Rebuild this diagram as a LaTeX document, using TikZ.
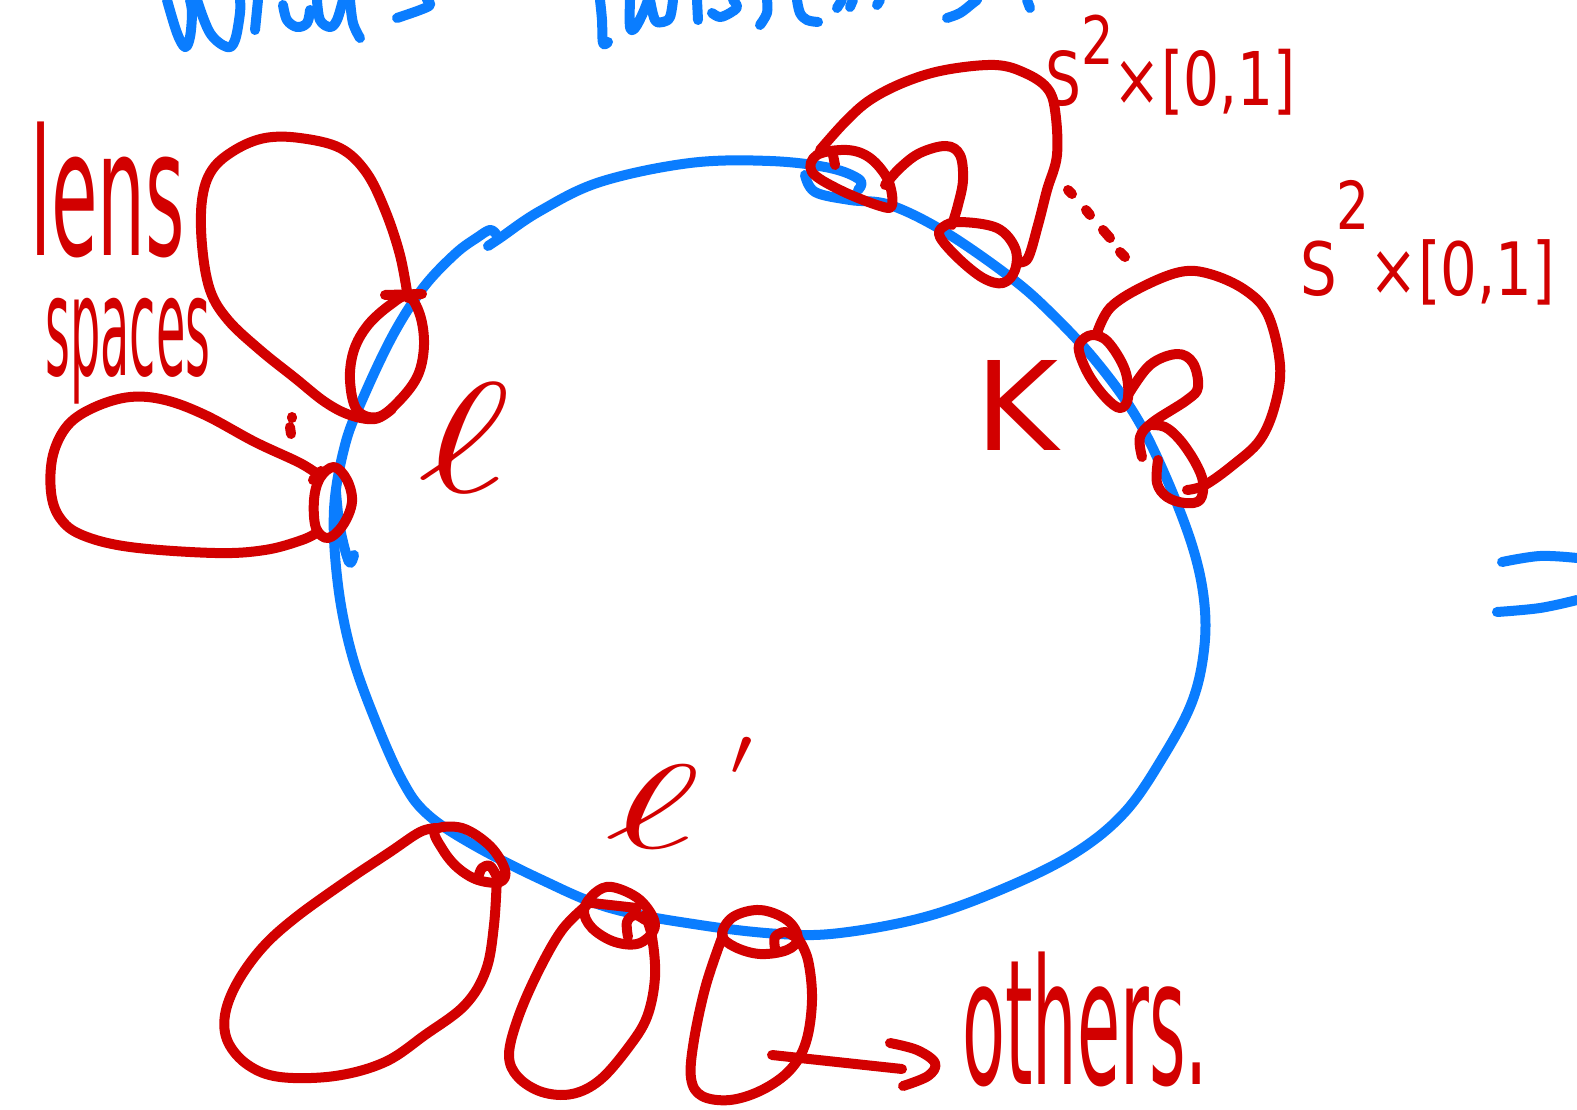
\documentclass[tikz,border=0pt]{standalone}
\usepackage{fontspec}
\setmainfont{DejaVu Sans}
\definecolor{myblue}{RGB}{10,125,255}
\definecolor{myred}{RGB}{210,0,0}
\tikzset{
  bl/.style={draw=myblue, line width=10pt, line cap=round, line join=round},
  rd/.style={draw=myred, line width=10pt, line cap=round, line join=round},
  lbl/.style={inner sep=0pt, anchor=north west, text=myred},
  sm/.style={smooth, tension=0.6},
}
\begin{document}
\begin{tikzpicture}[x=1pt,y=-1pt]
\useasboundingbox (0,0) rectangle (1577,1110);
\fill[white] (0,0) rectangle (1577,1110);

% ---------- blue handwriting fragments at top ----------
\draw[bl] plot[sm] coordinates {(167,0) (177,33) (185,47) (190,37) (192,13) (190,0)};
\draw[bl] plot[sm] coordinates {(197,0) (210,33) (227,47) (235,40) (240,13) (240,0)};
\draw[bl] plot[sm] coordinates {(255,30) (258,0)};
\draw[bl] plot[sm] coordinates {(283,5) (287,20) (297,27) (307,23) (310,10)};
\draw[bl] plot[sm] coordinates {(317,0) (320,20) (330,27) (337,20) (343,0)};
\draw[bl] plot[sm] coordinates {(350,0) (353,23) (360,38)};
\draw[bl] plot[sm] coordinates {(397,18) (420,10) (430,5) (427,0)};
\draw[bl] plot[sm] coordinates {(600,0) (602,20) (603,43) (608,42)};
\draw[bl] plot[sm] coordinates {(630,0) (630,27) (635,28) (643,13) (648,0)};
\draw[bl] plot[sm] coordinates {(650,0) (655,20) (663,22) (670,17) (673,0)};
\draw[bl] plot[sm] coordinates {(697,0) (698,20)};
\draw[bl] plot[sm] coordinates {(712,13) (720,17) (730,13) (737,7) (733,0)};
\draw[bl] plot[sm] coordinates {(767,0) (767,13) (760,25)};
\draw[bl] plot[sm] coordinates {(797,0) (800,13) (807,20) (818,22)};
\draw[bl] (837,8) -- (842,0);
\draw[bl] (850,7) -- (853,0);
\draw[bl] (877,5) -- (880,0);
\draw[bl] plot[sm] coordinates {(947,18) (960,13) (973,3) (977,0)};
\draw[bl] (1027,0) -- (1030,8);

% ---------- blue "=" at right edge ----------
\draw[bl] plot[sm] coordinates {(1502,562) (1540,556) (1577,558)};
\draw[bl] plot[sm] coordinates {(1497,612) (1540,608) (1577,600)};

% ---------- main blue curve ----------
\draw[bl] plot[sm] coordinates {(488,246) (500,238) (540,211) (600,182) (690,163) (770,161) (830,168) (860,180) (858,190)};
\draw[bl] plot[sm] coordinates {(805,175) (815,192) (850,200) (890,205) (945,232) (1010,277)
  (1050,312) (1095,360) (1135,415) (1165,475) (1192,545) (1204,600) (1204,650) (1192,702)
  (1163,757) (1125,812) (1075,853) (1005,888) (925,917) (840,933) (780,934) (700,925)
  (610,908) (540,879) (470,843) (426,813) (402,780) (376,722) (352,655) (338,585)
  (334,510) (345,445) (363,398) (393,335) (423,288) (455,254) (478,237) (490,230) (496,234)};
\draw[bl] plot[sm] coordinates {(336,492) (340,528) (349,562) (354,555)};

% ---------- red loops: lens spaces ----------
\draw[rd] plot[sm] coordinates {(408,298) (400,255) (385,210) (366,172) (340,148) (300,138)
  (265,138) (235,150) (212,170) (202,200) (202,245) (210,290) (228,320) (260,350) (295,378)
  (325,402) (350,415) (375,419) (392,409)};
\draw[rd] plot[smooth cycle, tension=0.6] coordinates {(408,296) (420,315) (424,345) (418,375)
  (400,400) (378,417) (357,410) (350,380) (354,350) (368,325) (390,305)};
\draw[rd] (385,295) -- (422,294);

\draw[rd] plot[sm] coordinates {(320,476) (300,463) (255,442) (205,415) (165,400) (130,397)
  (95,407) (68,425) (53,455) (51,492) (60,518) (82,535) (130,547) (215,553) (265,550)
  (302,540) (318,532)};
\draw[rd] plot[smooth cycle, tension=0.6] coordinates {(334,467) (347,480) (352,502) (343,525)
  (328,538) (316,528) (314,500) (320,478)};
\draw[rd] (313,480) -- (321,471);
\draw[rd] (292,417) -- (292,418);
\draw[rd] (290,427) -- (291,434);

% ---------- red loops: bottom ----------
\draw[rd] plot[sm] coordinates {(497,875) (494,925) (486,970) (465,1005) (425,1035) (385,1062)
  (335,1076) (280,1077) (248,1065) (228,1042) (225,1015) (237,983) (262,948) (295,918)
  (345,882) (390,852) (420,832) (437,828)};
\draw[rd] plot[smooth cycle, tension=0.6] coordinates {(435,830) (462,828) (490,846) (505,870)
  (500,882) (478,880) (458,868) (443,850)};
\draw[rd] plot[sm] coordinates {(478,878) (482,868) (490,866) (496,875)};

\draw[rd] plot[sm] coordinates {(587,905) (562,930) (538,972) (518,1018) (509,1055) (518,1077)
  (542,1092) (572,1094) (600,1080) (628,1048) (647,1017) (655,977) (652,937) (645,915)};
\draw[rd] plot[smooth cycle, tension=0.6] coordinates {(612,887) (640,900) (655,925) (640,943)
  (615,942) (592,928) (584,910) (595,893)};
\draw[rd] (592,903) -- (637,908);
\draw[rd] plot[sm] coordinates {(628,937) (627,922) (635,915) (645,920)};

\draw[rd] plot[sm] coordinates {(723,935) (706,985) (694,1040) (691,1078) (702,1096) (730,1100)
  (762,1090) (790,1070) (806,1042) (812,1000) (808,960) (798,938)};
\draw[rd] plot[smooth cycle, tension=0.6] coordinates {(733,917) (760,910) (787,920) (798,938)
  (787,950) (760,954) (735,947) (722,935)};
\draw[rd] plot[sm] coordinates {(775,948) (775,937) (785,932) (795,937)};

% ---------- red loops: top right ----------
\draw[rd] plot[sm] coordinates {(820,150) (845,122) (870,100) (905,82) (945,70) (995,65)
  (1025,73) (1047,88) (1055,110) (1057,155) (1047,190) (1038,225) (1028,258) (1018,262)};
\draw[rd] plot[smooth cycle, tension=0.6] coordinates {(817,155) (847,150) (870,158) (888,180)
  (892,205) (880,206) (840,190) (812,172)};
\draw[rd] (835,165) -- (833,155);
\draw[rd] plot[sm] coordinates {(885,185) (900,168) (920,153) (946,146) (960,155) (963,180)
  (958,205) (952,225)};
\draw[rd] plot[smooth cycle, tension=0.6] coordinates {(943,227) (960,222) (997,228) (1015,248)
  (1015,270) (1003,283) (983,278) (958,258) (940,237)};
\draw[rd] (1068,190) -- (1072,194);
\draw[rd] (1086,210) -- (1090,215);
\draw[rd] (1103,230) -- (1110,238);
\draw[rd] (1120,252) -- (1125,257);

\draw[rd] plot[sm] coordinates {(1097,333) (1110,308) (1140,288) (1180,272) (1210,274)
  (1245,290) (1268,315) (1280,365) (1275,405) (1260,440) (1233,465) (1205,485) (1187,490)};
\draw[rd] plot[smooth cycle, tension=0.6] coordinates {(1080,343) (1092,335) (1108,342)
  (1125,370) (1128,398) (1120,408) (1106,398) (1090,377) (1080,355)};
\draw[rd] plot[sm] coordinates {(1128,395) (1150,365) (1177,354) (1193,363) (1198,387)
  (1187,400) (1153,422) (1140,437) (1142,457)};
\draw[rd] plot[sm] coordinates {(1158,460) (1157,483) (1167,497) (1185,503) (1200,500)
  (1203,482) (1195,462) (1180,440) (1165,427) (1150,425)};

% ---------- labels ----------
\node[lbl] (lens) at (30,122) {\resizebox*{155pt}{136pt}{lens}};
\node[lbl] (spaces) at (45,298) {\resizebox*{165pt}{106pt}{spaces}};
\node[lbl] (ell) at (418,383) {\resizebox*{92pt}{109pt}{$\ell$}};
\node[lbl] (K) at (975,360) {\resizebox*{83pt}{90pt}{K}};
\node[lbl] (ellp) at (605,765) {\resizebox*{95pt}{83pt}{$\ell$}};
\node[lbl] (prime) at (730,737) {\resizebox*{22pt}{38pt}{$\prime$}};
\node[lbl] (s2a) at (1045,15) {\resizebox*{250pt}{100pt}{S\raisebox{0.55em}{\small 2}×[0,1]}};
\node[lbl] (s2b) at (1300,180) {\resizebox*{255pt}{125pt}{S\raisebox{0.9em}{\small 2}×[0,1]}};
\node[lbl] (oth) at (962,952) {\resizebox*{246pt}{135pt}{others.}};

% ---------- arrow to "others" ----------
\coordinate (arrS) at (772,1055);
\coordinate (arrE) at (902,1069);
\draw[rd] (arrS) -- (arrE);
\draw[rd] plot[sm] coordinates {(890,1043) (917,1050) (935,1063) (928,1076) (903,1086)};
\end{tikzpicture}
\end{document}
